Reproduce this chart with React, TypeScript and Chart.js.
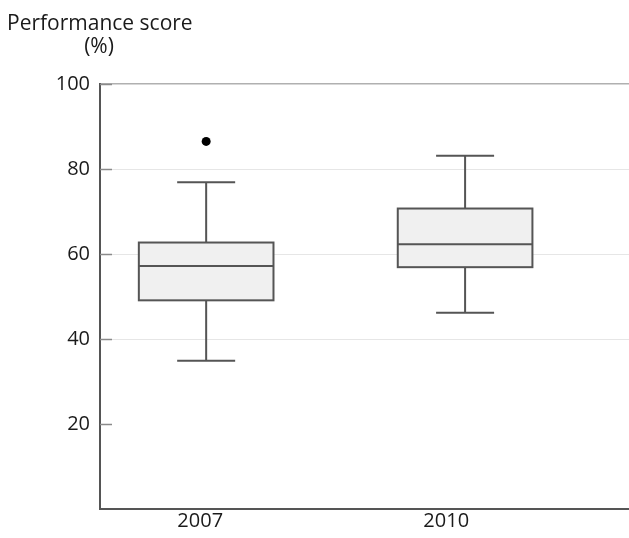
import React, { useEffect, useRef } from "react";
import { Chart, registerables } from "chart.js";

Chart.register(...registerables);

const categories = ["2007", "2010"];
const whiskerMin = [34.9, 46.2];
const q1 = [49.1, 56.9];
const median = [57.2, 62.3];
const q3 = [62.7, 70.7];
const whiskerMax = [76.9, 83.1];
const outliers = [{ x: 0, y: 86.5 }];
const yTickValues = [20, 40, 60, 80, 100];

const FONT = "'Open Sans', 'DejaVu Sans', sans-serif";
const BOX_HALF = 0.26;
const CAP_HALF = 0.112;
const LABEL_SHIFT = [-0.023, -0.073];

const boxPlugin = {
  id: "boxPlugin",
  beforeDatasetsDraw(chart: any) {
    const { ctx, scales } = chart;
    const xs = scales.x;
    const ys = scales.y;
    const area = chart.chartArea;
    ctx.save();
    // inner tick marks on y axis
    ctx.strokeStyle = "#8a8a8a";
    ctx.lineWidth = 1.5;
    yTickValues.forEach((v) => {
      const y = Math.round(ys.getPixelForValue(v)) + 0.5;
      ctx.beginPath();
      ctx.moveTo(area.left, y);
      ctx.lineTo(area.left + 12, y);
      ctx.stroke();
    });
    categories.forEach((_, i) => {
      const xc = xs.getPixelForValue(i);
      const xl = xs.getPixelForValue(i - BOX_HALF);
      const xr = xs.getPixelForValue(i + BOX_HALF);
      const cl = xs.getPixelForValue(i - CAP_HALF);
      const cr = xs.getPixelForValue(i + CAP_HALF);
      const yMin = ys.getPixelForValue(whiskerMin[i]);
      const yQ1 = ys.getPixelForValue(q1[i]);
      const yMed = ys.getPixelForValue(median[i]);
      const yQ3 = ys.getPixelForValue(q3[i]);
      const yMax = ys.getPixelForValue(whiskerMax[i]);
      ctx.strokeStyle = "#555555";
      ctx.lineWidth = 2;
      // whiskers
      ctx.beginPath();
      ctx.moveTo(xc, yMin);
      ctx.lineTo(xc, yQ1);
      ctx.moveTo(xc, yQ3);
      ctx.lineTo(xc, yMax);
      ctx.moveTo(cl, yMin);
      ctx.lineTo(cr, yMin);
      ctx.moveTo(cl, yMax);
      ctx.lineTo(cr, yMax);
      ctx.stroke();
      // box
      ctx.fillStyle = "#f0f0f0";
      ctx.fillRect(xl, yQ3, xr - xl, yQ1 - yQ3);
      ctx.strokeRect(xl, yQ3, xr - xl, yQ1 - yQ3);
      // median
      ctx.beginPath();
      ctx.moveTo(xl, yMed);
      ctx.lineTo(xr, yMed);
      ctx.stroke();
    });
    // title
    ctx.fillStyle = "#1a1a1a";
    ctx.font = `21px ${FONT}`;
    ctx.textBaseline = "alphabetic";
    ctx.textAlign = "left";
    ctx.fillText("Performance score", 7, 30);
    ctx.textAlign = "center";
    ctx.fillText("(%)", 99, 53);
    ctx.restore();
  },
};

export default function App() {
  const ref = useRef<HTMLCanvasElement>(null);
  useEffect(() => {
    if (!ref.current) return;
    const chart = new Chart(ref.current, {
      type: "scatter",
      data: {
        datasets: [
          {
            label: "Outliers",
            data: outliers,
            pointRadius: 4.5,
            pointBackgroundColor: "#000000",
            pointBorderColor: "#000000",
            pointBorderWidth: 0,
          },
        ],
      },
      options: {
        responsive: false,
        animation: false,
        layout: { autoPadding: false, padding: { top: 84, right: 0, bottom: 0, left: 0 } },
        plugins: { legend: { display: false }, tooltip: { enabled: false } },
        scales: {
          x: {
            type: "linear",
            min: -0.41,
            max: 1.633,
            afterBuildTicks(scale: any) {
              scale.ticks = categories.map((_, i) => ({ value: i + LABEL_SHIFT[i] }));
            },
            afterFit(scale: any) {
              scale.height = 29;
              scale.paddingRight = 0;
              scale.paddingLeft = 0;
            },
            ticks: {
              autoSkip: false,
              maxRotation: 0,
              padding: 0,
              color: "#1a1a1a",
              font: { family: FONT, size: 20 },
              callback: (_v: any, i: number) => categories[i],
            },
            grid: { display: false, drawTicks: false },
            border: { display: true, color: "#555555", width: 2 },
          },
          y: {
            type: "linear",
            min: 0,
            max: 100,
            afterFit(scale: any) {
              scale.width = 100;
            },
            ticks: {
              stepSize: 20,
              padding: 10,
              color: "#1a1a1a",
              font: { family: FONT, size: 20 },
              callback: (v: any) => (v === 0 ? "" : String(v)),
            },
            grid: {
              drawTicks: false,
              color: (c: any) => {
                const v = c.tick ? c.tick.value : 0;
                if (v === 100) return "#b0b0b0";
                if (v === 40 || v === 60 || v === 80) return "#e6e6e6";
                return "rgba(0,0,0,0)";
              },
              lineWidth: (c: any) => (c.tick && c.tick.value === 100 ? 1.5 : 1),
            },
            border: { display: true, color: "#555555", width: 2 },
          },
        },
      },
      plugins: [boxPlugin],
    });
    return () => chart.destroy();
  }, []);
  return (
    <div style={{ position: "fixed", left: 0, top: 0, width: 629, height: 538, background: "#fff" }}>
      <canvas ref={ref} width={629} height={538} />
    </div>
  );
}
